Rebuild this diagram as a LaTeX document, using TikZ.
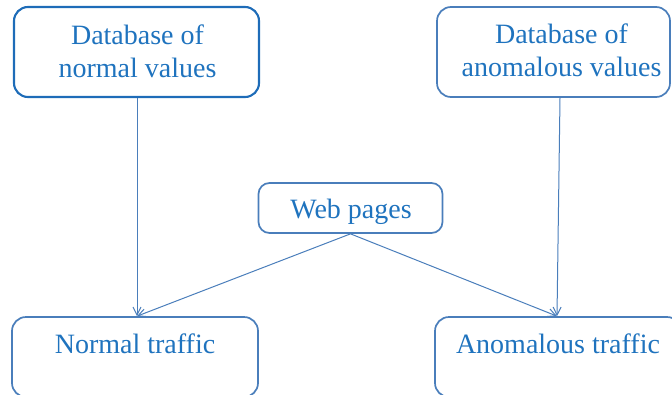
\documentclass[tikz,border=0pt]{standalone}
\usepackage{fontspec}
\setmainfont{Liberation Serif}
\usetikzlibrary{arrows.meta}
\definecolor{txtblue}{RGB}{31,115,190}
\definecolor{boxblue}{RGB}{30,108,184}
\definecolor{lineblue}{RGB}{74,126,187}
\tikzset{
  panel/.style={draw=lineblue, line width=1.7pt, rounded corners=14pt, inner sep=0pt},
  mainpanel/.style={panel, draw=boxblue, line width=2.1pt},
  caption/.style={text=txtblue, inner sep=0pt, align=center,
    font=\fontsize{28}{33}\selectfont},
  link/.style={draw=lineblue, line width=1pt,
    -{Straight Barb[length=8pt,width=8pt,line width=1pt]}}
}
\begin{document}
\begin{tikzpicture}[x=1pt,y=-1pt]
  \useasboundingbox (0,0) rectangle (672,394);
  \clip (0,0) rectangle (672,394);

  % database boxes
  \node[mainpanel, minimum width=245pt, minimum height=90pt] (dbn) at (136.5,52) {};
  \node[panel, minimum width=233pt, minimum height=90pt] (dba) at (553.5,52) {};
  \node[caption, anchor=north] (dbnt) at (137.5,24.4) {Database of\\normal values};
  \node[caption, anchor=north] (dbat) at (561.5,23.6) {Database of\\anomalous values};

  % source box
  \node[panel, rounded corners=11pt, minimum width=184pt, minimum height=50pt] (web) at (350.5,208) {};
  \node[caption, anchor=base] (webt) at (351,218.5) {Web pages};

  % traffic classes
  \node[panel, minimum width=246pt, minimum height=80pt] (nt) at (135,357) {};
  \node[panel, minimum width=246pt, minimum height=80pt] (at) at (558,357) {};
  \node[caption, anchor=base] (ntt) at (135,353) {Normal traffic};
  \node[caption, anchor=base] (att) at (558,353) {Anomalous traffic};

  % connectors
  \coordinate (dbnout) at ([xshift=0.5pt]dbn.south);
  \coordinate (dbaout) at ([xshift=6.5pt]dba.south);
  \coordinate (ntin) at ([xshift=2pt]nt.north);
  \coordinate (atin) at ([xshift=-1pt]at.north);
  \draw[link] (dbnout) -- (ntin);
  \draw[link] (dbaout) -- (atin);
  \draw[link] (web.south) -- (ntin);
  \draw[link] (web.south) -- (atin);
\end{tikzpicture}
\end{document}
